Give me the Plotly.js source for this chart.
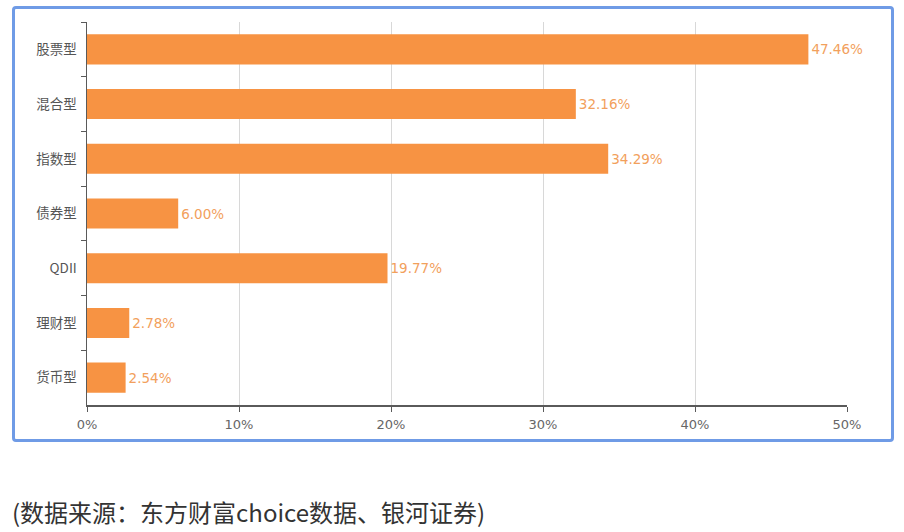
<!DOCTYPE html>
<html>
<head>
<meta charset="utf-8">
<script src="https://cdn.plot.ly/plotly-3.0.1.min.js"></script>
<style>
  html,body{margin:0;padding:0;background:#fff;}
  #wrap{position:relative;width:904px;height:532px;}
  #frame{position:absolute;left:12px;top:6px;width:876px;height:430px;border:3px solid #6f9be6;border-radius:4px;}
  #chart{position:absolute;left:0;top:0;width:904px;height:532px;}
</style>
</head>
<body>
<div id="wrap">
  <div id="frame"></div>
  <div id="chart"></div>
</div>
<script>
// fund categories and share (%)
const categories = ['股票型','混合型','指数型','债券型','QDII','理财型','货币型'];
const values = [47.46, 32.16, 34.29, 6.00, 19.77, 2.78, 2.54];
const xTicks = [0, 10, 20, 30, 40, 50];

const barColor = '#f79343';
const plotW = 760, plotH = 383;

Plotly.newPlot('chart', [{
  type: 'bar',
  orientation: 'h',
  y: categories,
  x: values,
  width: 0.55,
  marker: {color: barColor},
  text: values.map(v => v.toFixed(2) + '%'),
  textposition: 'outside',
  constraintext: 'none',
  cliponaxis: false,
  textfont: {family: 'DejaVu Sans, Verdana, sans-serif', size: 13.5, color: '#f2a05c'},
  hoverinfo: 'none'
}], {
  width: 904, height: 532,
  margin: {l: 87, r: 57, t: 22, b: 127, pad: 0},
  paper_bgcolor: 'rgba(0,0,0,0)',
  plot_bgcolor: 'rgba(0,0,0,0)',
  showlegend: false,
  xaxis: {
    range: [0, 50],
    tickvals: xTicks,
    ticktext: xTicks.map(t => t + '%'),
    showgrid: true, gridcolor: '#d8d8d8', gridwidth: 1,
    zeroline: false,
    showline: true, linecolor: '#5a5a5a', linewidth: 1.5,
    ticks: 'outside', ticklen: 5, tickcolor: '#5a5a5a',
    ticklabelstandoff: 2,
    tickfont: {family: 'DejaVu Sans, Verdana, sans-serif', size: 13, color: '#666'}
  },
  yaxis: {
    autorange: 'reversed',
    type: 'category',
    showline: true, linecolor: '#5a5a5a', linewidth: 1.5,
    ticks: 'outside', ticklen: 5, tickcolor: '#5a5a5a',
    tickson: 'boundaries',
    showgrid: false,
    ticklabelstandoff: 6,
    tickfont: {family: 'Noto Sans CJK SC, sans-serif', size: 13.5, color: '#555'}
  },
  annotations: [{
    xref: 'paper', yref: 'paper',
    x: -77/plotW, y: -(511-405)/plotH,
    xanchor: 'left', yanchor: 'middle',
    showarrow: false,
    text: '(数据来源：东方财富choice数据、银河证券)',
    font: {family: 'Noto Sans CJK SC, sans-serif', size: 24, color: '#333'}
  }]
}, {staticPlot: true});
</script>
</body>
</html>
